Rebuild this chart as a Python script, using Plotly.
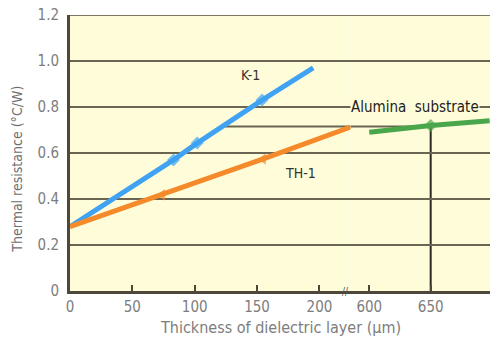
import plotly.graph_objects as go

# ---- data ----
k1_x = [0, 83, 102, 154, 195]
k1_y = [0.28, 0.57, 0.643, 0.83, 0.97]
th1_x = [0, 74, 155, 225]
th1_y = [0.28, 0.418, 0.574, 0.713]
alumina_x = [600, 650, 698]
alumina_y = [0.69, 0.72, 0.74]
y_ticks = [0, 0.2, 0.4, 0.6, 0.8, 1.0, 1.2]
y_ticklabels = ["0", "0.2", "0.4", "0.6", "0.8", "1.0", "1.2"]
x_ticks_left = [0, 50, 100, 150, 200]
x_ticks_right = [600, 650]
ref_level = 0.715
ref_start = 124.5

BG = "#FFFCD9"
GRID = "#6a6452"
FONT = "Liberation Sans Narrow, DejaVu Sans Condensed, Arial, sans-serif"
TICKC = "#7d7d7d"

PLOT_W = 420
PLOT_H = 276.5
split = (350.6 - 70) / PLOT_W

fig = go.Figure()

fig.add_trace(go.Scatter(
    x=k1_x, y=k1_y, mode="lines+markers", xaxis="x", yaxis="y",
    line=dict(color="#3fa2f2", width=5),
    marker=dict(symbol="diamond", size=[0, 10, 10, 10, 0], color="#3fa2f2", line=dict(width=0)),
    showlegend=False, hoverinfo="skip"))
fig.add_trace(go.Scatter(
    x=th1_x, y=th1_y, mode="lines+markers", xaxis="x", yaxis="y",
    line=dict(color="#f58a2a", width=5),
    marker=dict(symbol="triangle-left", size=[0, 10, 10, 0], color="#f58a2a", line=dict(width=0)),
    showlegend=False, hoverinfo="skip"))
fig.add_trace(go.Scatter(
    x=alumina_x, y=alumina_y, mode="lines+markers", xaxis="x2", yaxis="y",
    line=dict(color="#4aa64a", width=5),
    marker=dict(symbol="diamond", size=[0, 10, 0], color="#4aa64a", line=dict(width=0)),
    showlegend=False, hoverinfo="skip"))

# reference lines
fig.add_shape(type="line", xref="x", yref="y", x0=ref_start, x1=225, y0=ref_level, y1=ref_level,
              line=dict(color=GRID, width=2), layer="below")
fig.add_shape(type="line", xref="x2", yref="y", x0=584.8, x1=650, y0=ref_level, y1=ref_level,
              line=dict(color=GRID, width=2), layer="below")
fig.add_shape(type="line", xref="x2", yref="y", x0=650, x1=650, y0=0, y1=alumina_y[1],
              line=dict(color="#2a2a22", width=2), layer="below")
# top frame line
fig.add_shape(type="line", xref="paper", yref="y", x0=0, x1=1, y0=1.2, y1=1.2,
              line=dict(color="#7a7460", width=2), layer="below")

axis_common = dict(showgrid=False, zeroline=False, showline=True, linecolor="#4d483a", linewidth=3,
                   ticks="inside", ticklen=6, tickwidth=2, tickcolor="#4d483a",
                   tickfont=dict(family=FONT, size=15, color=TICKC), fixedrange=True)

fig.update_layout(
    width=490, height=343,
    margin=dict(l=70, r=0, t=15, b=343 - 15 - PLOT_H),
    paper_bgcolor="white", plot_bgcolor=BG,
    xaxis=dict(domain=[0, split], range=[0, 225], tickvals=x_ticks_left,
               ticktext=[str(v) for v in x_ticks_left], anchor="y", **axis_common),
    xaxis2=dict(domain=[split, 1], range=[584.8, 698.3], tickvals=x_ticks_right,
                ticktext=[str(v) for v in x_ticks_right], anchor="y", **axis_common),
    yaxis=dict(range=[0, 1.2], tickvals=y_ticks, ticktext=y_ticklabels, showgrid=True,
               gridcolor=GRID, gridwidth=2, zeroline=False, showline=True, linecolor="#4d483a",
               linewidth=3, ticks="", ticklabelstandoff=5,
               tickfont=dict(family=FONT, size=15, color=TICKC), fixedrange=True),
    font=dict(family=FONT),
)

annotations = [
    dict(text="K-1", x=145, y=0.94, xref="x", yref="y", showarrow=False,
         font=dict(family=FONT, size=14, color="#333")),
    dict(text="TH-1", x=185, y=0.513, xref="x", yref="y", showarrow=False,
         font=dict(family=FONT, size=14, color="#333")),
    dict(text="Alumina  substrate", x=584.8 + (415 - 350.6) / 1.228, y=0.8, xref="x2", yref="y",
         showarrow=False, bgcolor=BG, borderpad=0,
         font=dict(family=FONT, size=15, color="#222")),
    dict(text="//", x=split, y=0, xref="paper", yref="y", showarrow=False,
         font=dict(family=FONT, size=10, color="#555")),
    dict(text="Thickness of dielectric layer (µm)", x=(280 - 70) / PLOT_W, y=-(328 - 291.5) / PLOT_H,
         xref="paper", yref="paper", xanchor="center", yanchor="middle", showarrow=False,
         font=dict(family=FONT, size=16, color=TICKC)),
    dict(text="Thermal resistance (°C/W)", x=-(70 - 17) / PLOT_W, y=(291.5 - 170) / PLOT_H,
         xref="paper", yref="paper", xanchor="center", yanchor="middle", textangle=-90,
         showarrow=False, font=dict(family=FONT, size=14, color="#6e6e6e")),
]
fig.update_layout(annotations=annotations)

fig.write_html("out.html", config={"displayModeBar": False},
               post_script="document.body.style.margin='0';")
